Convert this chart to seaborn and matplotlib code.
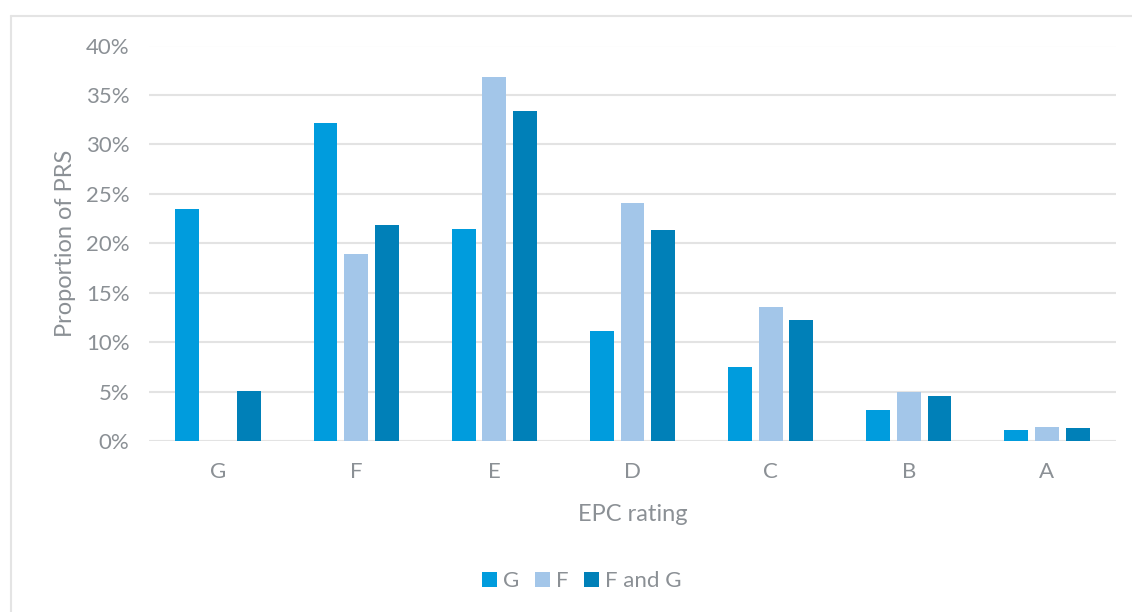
import matplotlib
matplotlib.use("Agg")
import matplotlib.pyplot as plt
from matplotlib.lines import Line2D
from matplotlib.ticker import PercentFormatter
import seaborn as sns
import pandas as pd

# EPC bands and proportion of PRS stock (%) for each group
ratings = ["G", "F", "E", "D", "C", "B", "A"]
group_g = [23.5, 32.2, 21.4, 11.1, 7.5, 3.1, 1.1]
group_f = [0.0, 18.9, 36.8, 24.1, 13.6, 5.0, 1.45]
group_fg = [5.1, 21.8, 33.4, 21.3, 12.2, 4.6, 1.35]
series_names = ["G", "F", "F and G"]
series_colors = ["#009cdd", "#a3c6e9", "#0080b8"]

df = pd.DataFrame({
    "rating": ratings * 3,
    "value": group_g + group_f + group_fg,
    "series": [series_names[0]] * 7 + [series_names[1]] * 7 + [series_names[2]] * 7,
})

sns.set_theme(style="white")
plt.rcParams["font.family"] = ["Lato", "DejaVu Sans"]
text_grey = "#8b9095"

fig = plt.figure(figsize=(11.32, 6.12), dpi=100)
ax = fig.add_axes([149 / 1132, 1 - 441 / 612, (1116 - 149) / 1132, (441 - 45.5) / 612])

sns.barplot(
    data=df, x="rating", y="value", hue="series", order=ratings,
    hue_order=series_names, palette=series_colors, width=0.667, gap=0.22,
    linewidth=0, saturation=1, ax=ax, legend=True,
)

ax.set_ylim(0, 40)
ax.set_xlim(-0.5, len(ratings) - 0.5)
ax.set_yticks(range(0, 41, 5))
ax.yaxis.set_major_formatter(PercentFormatter(decimals=0))
ax.grid(axis="y", color="#e3e3e3", linewidth=1.5)
ax.set_axisbelow(True)
for s in ax.spines.values():
    s.set_visible(False)
ax.tick_params(axis="both", length=0, labelsize=16, labelcolor=text_grey)
ax.tick_params(axis="x", pad=15)
ax.tick_params(axis="y", pad=14)

ax.set_xlabel("EPC rating", fontsize=17, color=text_grey, labelpad=16)
ax.set_ylabel("Proportion of PRS", fontsize=17, color=text_grey, labelpad=7)

handles, labels = ax.get_legend_handles_labels()
ax.legend_.remove()
fig.legend(
    handles, labels, loc="center", bbox_to_anchor=(582 / 1132, 1 - 581 / 612),
    ncol=3, frameon=False, fontsize=16, labelcolor=text_grey,
    handlelength=0.65, handleheight=0.65, handletextpad=0.3, columnspacing=0.7,
)

# chart frame: top and left edges
fig.add_artist(Line2D([11 / 1132, 1], [1 - 16 / 612, 1 - 16 / 612], color="#e4e4e4", linewidth=1.5))
fig.add_artist(Line2D([11 / 1132, 11 / 1132], [0, 1 - 16 / 612], color="#e4e4e4", linewidth=1.5))

fig.savefig("out.png", dpi=100, facecolor="white")
